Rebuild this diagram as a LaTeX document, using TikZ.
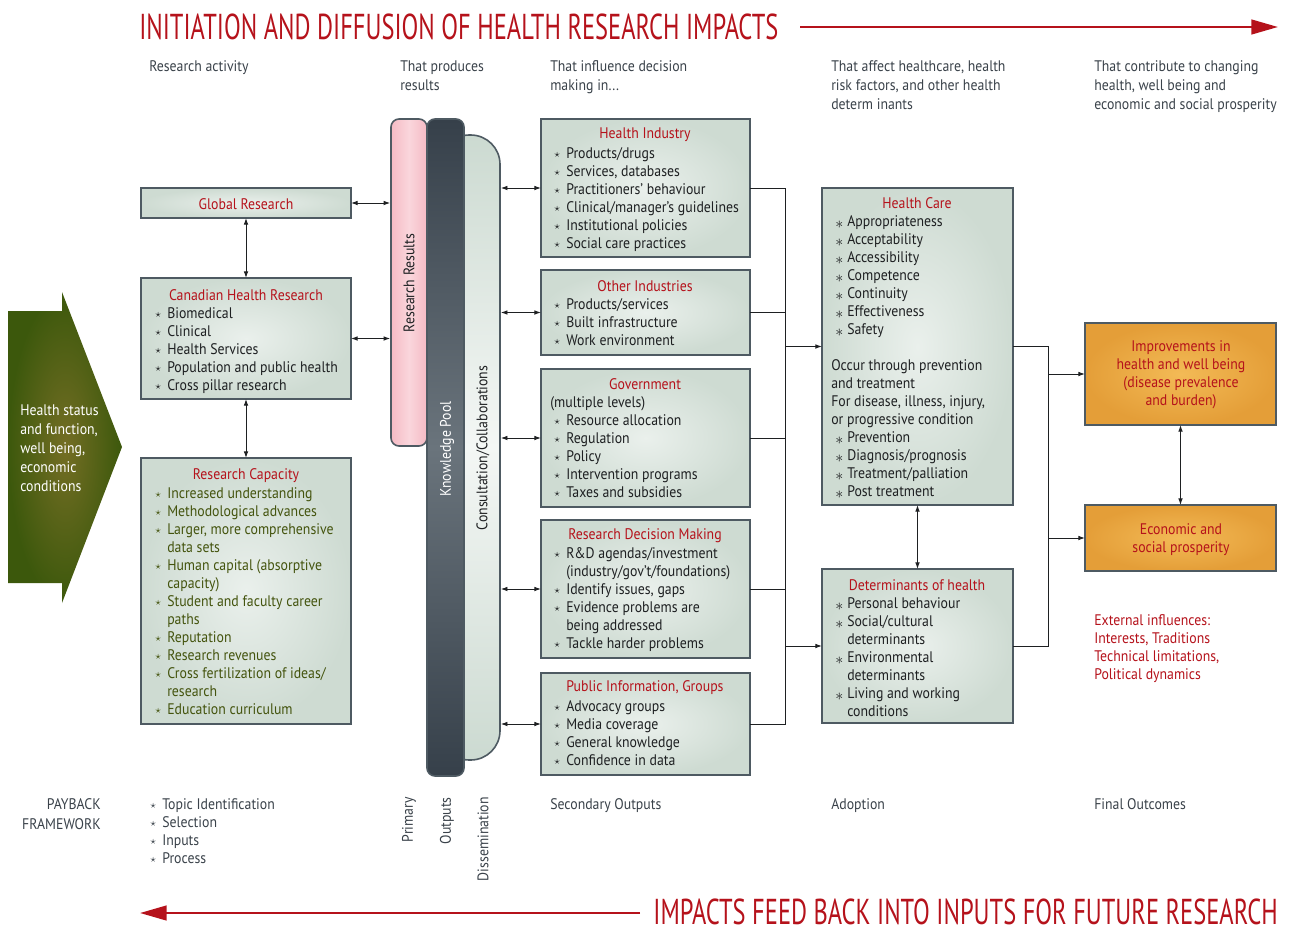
\documentclass[tikz,border=0pt]{standalone}
\usepackage{fontspec}
\setmainfont{PT Sans}[FakeStretch=0.9]
\newfontfamily\headfont{PT Sans}[FakeStretch=0.68]
\usetikzlibrary{arrows.meta}

\definecolor{cihrred}{RGB}{181,18,27}
\definecolor{slate}{RGB}{58,66,74}
\definecolor{ink}{RGB}{30,32,34}
\definecolor{boxfill}{RGB}{206,219,210}
\definecolor{boxlight}{RGB}{234,240,236}
\definecolor{boxline}{RGB}{78,90,98}
\definecolor{olive}{RGB}{68,84,14}
\definecolor{arrgreen}{RGB}{60,88,12}
\definecolor{arrlight}{RGB}{116,110,36}
\definecolor{pinkbar}{RGB}{245,186,196}
\definecolor{pinklight}{RGB}{250,214,220}
\definecolor{poolbar}{RGB}{54,64,74}
\definecolor{poollight}{RGB}{106,116,124}
\definecolor{consfill}{RGB}{204,218,209}
\definecolor{conslight}{RGB}{244,247,245}
\definecolor{orangebox}{RGB}{228,158,56}
\definecolor{orangelight}{RGB}{243,186,86}

\newcommand{\bul}{\makebox[9pt][l]{\raisebox{.1ex}{\footnotesize$\star$}}}
\newcommand{\hbul}{\makebox[9pt][l]{\raisebox{-.3ex}{$\ast$}}}
\newcommand{\cnt}{\hspace*{9pt}}

\tikzset{
  panel/.style={draw=boxline, line width=1.2pt, inner sep=0pt, outer sep=0pt,
    shading=radial, inner color=boxlight, outer color=boxfill},
  goal/.style={draw=boxline, line width=1.2pt, inner sep=0pt, outer sep=0pt,
    shading=radial, inner color=orangelight, outer color=orangebox},
  ttl/.style={text=cihrred, inner sep=0pt},
  txt/.style={align=left, anchor=base west, inner sep=0pt, text=ink},
  hdr/.style={align=left, anchor=base west, inner sep=0pt, text=slate},
  wide/.style={font=\fontsize{11.5}{14.25}\selectfont},
  head/.style={text=cihrred, inner sep=0pt, font=\headfont\fontsize{27}{32}\selectfont},
  link/.style={draw=ink, line width=0.7pt},
  dbl/.style={link, {Latex[length=5pt,width=3.5pt]}-{Latex[length=5pt,width=3.5pt]}},
  one/.style={link, -{Latex[length=5pt,width=3.5pt]}},
  big/.style={draw=cihrred, line width=1.8pt, -{Triangle[length=20pt,width=11pt]}},
}

\begin{document}
\begin{tikzpicture}[x=0.75pt, y=-0.75pt, font=\fontsize{11.5}{13.5}\selectfont]
  \useasboundingbox (0,0) rectangle (1290,925);

  \node[head, anchor=west] (top-t) at (139,27) {INITIATION AND DIFFUSION OF HEALTH RESEARCH IMPACTS};
  \coordinate (top-a) at (800,27);
  \coordinate (top-b) at (1278,27);
  \draw[big] (top-a) -- (top-b);
  \node[head, anchor=east] (bot-t) at (1278,912) {IMPACTS FEED BACK INTO INPUTS FOR FUTURE RESEARCH};
  \coordinate (bot-a) at (640,913);
  \coordinate (bot-b) at (140,913);
  \draw[big] (bot-a) -- (bot-b);

  \node[hdr, wide] (h1) at (149,71) {Research activity};
  \node[hdr, wide] (h2) at (400,90) {That produces\\results};
  \node[hdr, wide] (h3) at (550,90) {That influence decision\\making in...};
  \node[hdr, wide] (h4) at (831,109) {That affect healthcare, health\\risk factors, and other health\\determ inants};
  \node[hdr, wide] (h5) at (1094,109) {That contribute to changing\\health, well being and\\economic and social prosperity};

  \shade[inner color=arrlight, outer color=arrgreen] (8,311) -- (62,311) -- (62,292) -- (122,447)
    -- (62,603) -- (62,583) -- (8,583) -- cycle;
  \node[txt, wide, text=white] (hs) at (20,491) {Health status\\and function,\\well being,\\economic\\conditions};

  \node[panel, minimum width=157.5pt, minimum height=22.5pt] (glob) at (246,203) {};
  \node[ttl] (glob-t) at (246,204) {Global Research};
  \node[panel, minimum width=157.5pt, minimum height=90.75pt] (cdn) at (246,338.5) {};
  \node[ttl] (cdn-t) at (246,295) {Canadian Health Research};
  \node[txt] (cdn-l) at (155,390) {\bul Biomedical\\\bul Clinical\\\bul Health Services\\\bul Population and public health\\\bul Cross pillar research};
  \node[panel, minimum width=157.5pt, minimum height=199.5pt] (cap) at (246,591) {};
  \node[ttl] (cap-t) at (246,476) {Research Capacity};
  \node[txt, text=olive] (cap-l) at (155,714) {\bul Increased understanding\\\bul Methodological advances\\\bul Larger, more comprehensive\\\cnt data sets\\\bul Human capital (absorptive\\\cnt capacity)\\\bul Student and faculty career\\\cnt paths\\\bul Reputation\\\bul Research revenues\\\bul Cross fertilization of ideas/\\\cnt research\\\bul Education curriculum};

  \draw[dbl] (glob.south) -- (cdn.north);
  \draw[dbl] (cdn.south) -- (cap.north);

  \node[draw=boxline, line width=1.2pt, rounded corners=22pt, minimum width=45pt, minimum height=468.75pt,
    top color=consfill, bottom color=consfill, middle color=conslight] (cc) at (470,447.5) {};
  \node[draw=boxline, line width=1.2pt, rounded corners=6pt, minimum width=27pt, minimum height=245.25pt,
    left color=pinkbar, right color=pinkbar, middle color=pinklight] (rr) at (409,282.5) {};
  \node[draw=boxline, line width=1.2pt, rounded corners=6pt, minimum width=27.75pt, minimum height=492.75pt,
    top color=poolbar, bottom color=poolbar, middle color=poollight] (kp) at (445.5,447.5) {};
  \node[rotate=90, text=ink] (rr-t) at (409,283) {Research Results};
  \node[rotate=90, text=white] (kp-t) at (447,449) {Knowledge Pool};
  \node[rotate=90, text=ink] (cc-t) at (483,448) {Consultation/Collaborations};

  \draw[dbl] (glob.east) -- (glob.east -| rr.west);
  \draw[dbl] (cdn.east) -- (cdn.east -| rr.west);

  \node[panel, minimum width=156.75pt, minimum height=103.5pt] (hi) at (645.5,188) {};
  \node[ttl] (hi-t) at (645,135) {Health Industry};
  \node[txt] (hi-l) at (554,248) {\bul Products/drugs\\\bul Services, databases\\\bul Practitioners' behaviour\\\bul Clinical/manager's guidelines\\\bul Institutional policies\\\bul Social care practices};
  \node[panel, minimum width=156.75pt, minimum height=63.75pt] (oi) at (645.5,312.5) {};
  \node[ttl] (oi-t) at (645,286) {Other Industries};
  \node[txt] (oi-l) at (554,345) {\bul Products/services\\\bul Built infrastructure\\\bul Work environment};
  \node[panel, minimum width=156.75pt, minimum height=103.5pt] (gov) at (645.5,438) {};
  \node[ttl] (gov-t) at (645,384) {Government};
  \node[txt] (gov-m) at (550,407) {(multiple levels)};
  \node[txt] (gov-l) at (554,497) {\bul Resource allocation\\\bul Regulation\\\bul Policy\\\bul Intervention programs\\\bul Taxes and subsidies};
  \node[panel, minimum width=156.75pt, minimum height=103.5pt] (rdm) at (645.5,589) {};
  \node[ttl] (rdm-t) at (645,536) {Research Decision Making};
  \node[txt] (rdm-l) at (554,648) {\bul R\&D agendas/investment\\\cnt (industry/gov't/foundations)\\\bul Identify issues, gaps\\\bul Evidence problems are\\\cnt being addressed\\\bul Tackle harder problems};
  \node[panel, minimum width=156.75pt, minimum height=76.5pt] (pi) at (645.5,724) {};
  \node[ttl] (pi-t) at (645,688) {Public Information, Groups};
  \node[txt] (pi-l) at (554,765) {\bul Advocacy groups\\\bul Media coverage\\\bul General knowledge\\\bul Confidence in data};

  \draw[dbl] (hi.west -| cc.east) -- (hi.west);
  \draw[dbl] (oi.west -| cc.east) -- (oi.west);
  \draw[dbl] (gov.west -| cc.east) -- (gov.west);
  \draw[dbl] (rdm.west -| cc.east) -- (rdm.west);
  \draw[dbl] (pi.west -| cc.east) -- (pi.west);

  \node[panel, minimum width=143.25pt, minimum height=237.75pt] (hc) at (917.5,346.5) {};
  \node[ttl] (hc-t) at (917,203) {Health Care};
  \node[txt] (hc-l) at (835,334) {\hbul Appropriateness\\\hbul Acceptability\\\hbul Accessibility\\\hbul Competence\\\hbul Continuity\\\hbul Effectiveness\\\hbul Safety};
  \node[txt] (hc-m) at (831,424) {Occur through prevention\\and treatment\\For disease, illness, injury,\\or progressive condition};
  \node[txt] (hc-p) at (835,496) {\hbul Prevention\\\hbul Diagnosis/prognosis\\\hbul Treatment/palliation\\\hbul Post treatment};
  \node[panel, minimum width=143.25pt, minimum height=115.5pt] (det) at (917.5,646) {};
  \node[ttl] (det-t) at (917,585) {Determinants of health};
  \node[txt] (det-l) at (835,716) {\hbul Personal behaviour\\\hbul Social/cultural\\\cnt determinants\\\hbul Environmental\\\cnt determinants\\\hbul Living and working\\\cnt conditions};

  \coordinate (busL) at (785,0);
  \draw[link] (hi.east) -- (hi.east -| busL) -- (pi.east -| busL) -- (pi.east);
  \draw[link] (oi.east) -- (oi.east -| busL);
  \draw[link] (gov.east) -- (gov.east -| busL);
  \draw[link] (rdm.east) -- (rdm.east -| busL);
  \draw[one] (hc.west -| busL) -- (hc.west);
  \draw[one] (det.west -| busL) -- (det.west);
  \draw[dbl] (hc.south) -- (det.north);

  \node[goal, minimum width=143.25pt, minimum height=76.5pt] (imp) at (1180.5,374) {};
  \node[ttl, align=center] (imp-t) at (1181,375) {Improvements in\\health and well being\\(disease prevalence\\and burden)};
  \node[goal, minimum width=143.25pt, minimum height=49.5pt] (eco) at (1180.5,538) {};
  \node[ttl, align=center] (eco-t) at (1181,540) {Economic and\\social prosperity};
  \draw[dbl] (imp.south) -- (eco.north);

  \coordinate (busR) at (1048,0);
  \draw[link] (hc.east) -- (hc.east -| busR) -- (det.east -| busR) -- (det.east);
  \draw[one] (imp.west -| busR) -- (imp.west);
  \draw[one] (eco.west -| busR) -- (eco.west);

  \node[txt, text=cihrred] (ext) at (1094,679) {External influences:\\Interests, Traditions\\Technical limitations,\\Political dynamics};

  \node[hdr, align=right, anchor=base east, font=\fontsize{11.5}{15}\selectfont] (pay) at (101,829) {PAYBACK\\FRAMEWORK};
  \node[hdr] (pay-l) at (150,863) {\bul Topic Identification\\\bul Selection\\\bul Inputs\\\bul Process};
  \node[hdr, rotate=90, anchor=east] (f1) at (409,797) {Primary};
  \node[hdr, rotate=90, anchor=east] (f2) at (447,797) {Outputs};
  \node[hdr, rotate=90, anchor=east] (f3) at (483,797) {Dissemination};
  \node[hdr] (f4) at (550,809) {Secondary Outputs};
  \node[hdr] (f5) at (831,809) {Adoption};
  \node[hdr] (f6) at (1094,809) {Final Outcomes};
\end{tikzpicture}
\end{document}
